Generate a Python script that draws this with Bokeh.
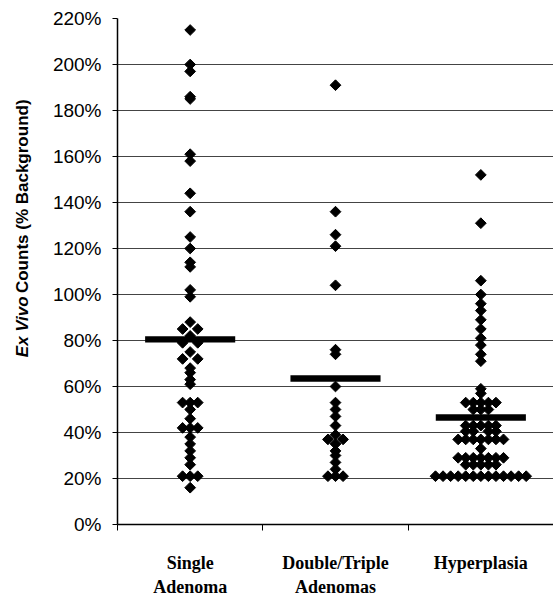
import numpy as np
from collections import Counter
from bokeh.plotting import figure
from bokeh.layouts import row
from bokeh.models import Range1d, FixedTicker, PrintfTickFormatter
from bokeh.core.properties import value
from bokeh.embed import file_html
from bokeh.resources import INLINE

# ---------------- data ----------------
categories = ["Single\nAdenoma", "Double/Triple\nAdenomas", "Hyperplasia"]

single_adenoma = [215, 200, 197, 186, 185, 161, 158, 144, 136, 125, 120, 114, 112,
                  102, 99, 88, 85, 85, 82, 79, 79, 75, 72, 72, 68, 66, 63, 61,
                  53, 53, 53, 50, 46, 42, 42, 42, 38, 35, 32, 29, 26, 21, 21, 21, 16]

double_triple = [191, 136, 126, 121, 104, 76, 74, 60, 53, 50, 47, 43, 39, 37, 37,
                 35, 32, 30, 27, 24, 21, 21, 21]

hyperplasia = [152, 131, 106, 100, 96, 93, 89, 85, 81, 78, 74, 71, 59, 57,
               53, 53, 53, 53, 53, 50, 50, 50, 43, 43, 43, 43, 43,
               40.5, 40.5, 40.5, 40.5, 37, 37, 37, 37, 37, 37, 37, 33,
               29, 29, 29, 29, 29, 29, 29, 26, 26, 26, 26, 26,
               21, 21, 21, 21, 21, 21, 21, 21, 21, 21, 21, 21, 21]

group_means = [80.5, 63.5, 46.5]
y_ticks = list(range(0, 221, 20))
y_label_parts = ["Ex Vivo", "Counts (% Background)"]

# ---------------- layout ----------------
H = 599
LABEL_W = 36
W = 553 - LABEL_W
FRAME_LEFT, FRAME_TOP, FRAME_BOTTOM = 117 - LABEL_W, 18, 525

p = figure(width=W, height=H, output_backend="svg", toolbar_location=None,
           x_range=Range1d(0.5, 3.5), y_range=Range1d(0, 220),
           min_border_left=FRAME_LEFT, min_border_right=0,
           min_border_top=FRAME_TOP, min_border_bottom=H - FRAME_BOTTOM)
p.title.visible = False
p.outline_line_color = None

# x axis: category labels, boundary tick marks
centers = [i + 1 for i in range(len(categories))]
p.xaxis.ticker = FixedTicker(ticks=centers, minor_ticks=[0.5, 1.5, 2.5, 3.5])
p.xaxis.major_label_overrides = {c: name for c, name in zip(centers, categories)}
p.xaxis.axis_line_color = "black"
p.xaxis.axis_line_width = 1.5
p.xaxis.minor_tick_line_color = "black"
p.xaxis.minor_tick_out = 6
p.xaxis.minor_tick_in = 0
p.xaxis.major_tick_line_color = None
p.xaxis.major_tick_out = 0
p.xaxis.major_tick_in = 0
p.xaxis.major_label_standoff = 22
p.xaxis.major_label_text_font = "Liberation Serif"
p.xaxis.major_label_text_font_style = "bold"
p.xaxis.major_label_text_font_size = "18px"
p.xaxis.major_label_text_color = "black"
p.xgrid.visible = False

# y axis
p.yaxis.ticker = FixedTicker(ticks=y_ticks)
p.yaxis.formatter = PrintfTickFormatter(format="%d%%")
p.yaxis.axis_line_color = "black"
p.yaxis.axis_line_width = 1.5
p.yaxis.major_tick_line_color = "black"
p.yaxis.major_tick_out = 5
p.yaxis.major_tick_in = 0
p.yaxis.minor_tick_line_color = None
p.yaxis.major_label_text_font = "Liberation Sans"
p.yaxis.major_label_text_font_size = "19px"
p.yaxis.major_label_text_color = "black"
p.yaxis.major_label_standoff = 11
p.ygrid.grid_line_color = "#444444"
p.ygrid.grid_line_width = 1


def swarm_offsets(values, step):
    counts = Counter(values)
    seen = Counter()
    offs = []
    for v in values:
        n = counts[v]
        k = seen[v]
        seen[v] += 1
        if n % 2 == 1:
            slots = [0] + [s for i in range(1, n // 2 + 1) for s in (-i, i)]
        else:
            slots = [s for i in range(1, n // 2 + 1) for s in (-i, i)]
        offs.append(slots[k] * step)
    return offs


groups = [single_adenoma, double_triple, hyperplasia]
step = 0.052
for i, vals in enumerate(groups):
    xs = [i + 1 + o for o in swarm_offsets(vals, step)]
    p.scatter(xs, vals, marker="square", size=7.6, angle=np.pi / 4,
              fill_color="black", line_color="black")

# mean bars
p.hbar(y=group_means, left=[c - 0.31 for c in centers], right=[c + 0.31 for c in centers],
       height=2.8, fill_color="black", line_color=None)

# ---------------- y axis title panel (pixel coordinates) ----------------
lab = figure(width=LABEL_W, height=H, output_backend="svg", toolbar_location=None,
             x_range=Range1d(0, LABEL_W), y_range=Range1d(0, H),
             x_axis_location=None, y_axis_location=None,
             min_border=0, min_border_left=0, min_border_right=0,
             min_border_top=0, min_border_bottom=0)
lab.title.visible = False
lab.grid.visible = False
lab.outline_line_color = None
lab_x = 22
join_y = 270  # point where the italic part ends and the upright part begins
lab.text(x=[lab_x], y=[join_y], text=[y_label_parts[0]], angle=np.pi / 2,
         text_font=value("Liberation Sans"), text_font_style="bold italic",
         text_font_size="17px", text_align="right", text_baseline="middle",
         text_color="black")
lab.text(x=[lab_x], y=[join_y + 4], text=[y_label_parts[1]], angle=np.pi / 2,
         text_font=value("Liberation Sans"), text_font_style="bold",
         text_font_size="17px", text_align="left", text_baseline="middle",
         text_color="black")

layout = row(lab, p, spacing=0)
open("out.html", "w").write(file_html(layout, INLINE))
